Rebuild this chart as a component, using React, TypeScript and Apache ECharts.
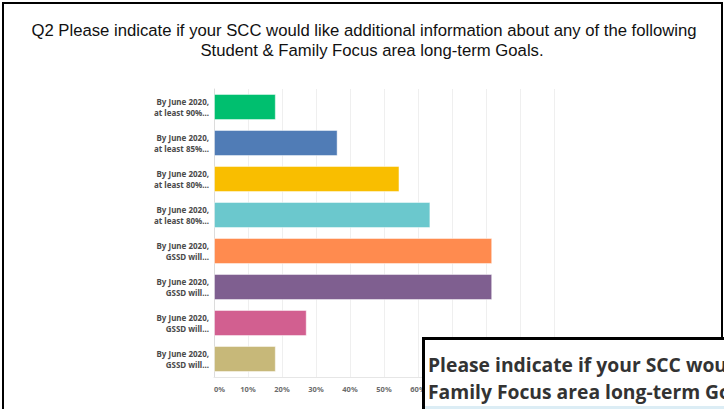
import React, { useEffect, useRef } from "react";
import * as echarts from "echarts";

const categories = [
  "By June 2020,\nat least 90%...",
  "By June 2020,\nat least 85%...",
  "By June 2020,\nat least 80%...",
  "By June 2020,\nat least 80%...",
  "By June 2020,\nGSSD will...",
  "By June 2020,\nGSSD will...",
  "By June 2020,\nGSSD will...",
  "By June 2020,\nGSSD will...",
];
const values = [18.18, 36.36, 54.55, 63.64, 81.82, 81.82, 27.27, 18.18];
const barColors = ["#00bf6f", "#507cb6", "#f9be00", "#6bc8cd", "#ff8b4f", "#7f5f90", "#d25f90", "#c7b879"];
const titleLines = [
  "Q2 Please indicate if your SCC would like additional information about any of the following",
  "Student & Family Focus area long-term Goals.",
];
const overlayLines = [
  "Please indicate if your SCC would",
  "Family Focus area long-term Goals",
];

export default function App() {
  const ref = useRef<HTMLDivElement>(null);
  useEffect(() => {
    if (!ref.current) return;
    const chart = echarts.init(ref.current, undefined, { renderer: "svg" });
    chart.setOption({
      animation: false,
      backgroundColor: "#ffffff",
      grid: { left: 214, right: 170, top: 89, bottom: 32, containLabel: false },
      xAxis: {
        type: "value",
        min: 0,
        max: 100,
        interval: 10,
        axisLine: { show: true, lineStyle: { color: "#e6e6e6", width: 1 } },
        axisTick: { show: false },
        splitLine: { show: true, lineStyle: { color: "#efefef", width: 1 } },
        axisLabel: {
          formatter: (v: number) => (v > 60 ? "" : v + "%"),
          color: "#6b6b6b",
          fontSize: 7.5,
          fontWeight: "bold",
          fontFamily: "Noto Sans",
          margin: 8,
          alignMinLabel: "left",
        },
      },
      yAxis: {
        type: "category",
        inverse: true,
        data: categories,
        axisLine: { show: true, lineStyle: { color: "#dcdcdc", width: 1 } },
        axisTick: { show: false },
        axisLabel: {
          color: "#4a4a4a",
          fontSize: 8,
          fontWeight: "bold",
          fontFamily: "Noto Sans",
          lineHeight: 10.5,
          margin: 5,
          align: "right",
        },
      },
      series: [
        {
          type: "bar",
          data: values.map((v, i) => ({ value: v, itemStyle: { color: barColors[i] } })),
          barWidth: 26,
          itemStyle: { borderColor: "rgba(255,255,255,0.45)", borderWidth: 1 },
        },
      ],
      graphic: [
        {
          type: "rect",
          shape: { x: 3, y: 3, width: 719, height: 430 },
          style: { fill: "none", stroke: "#000", lineWidth: 2 },
          z: 10,
        },
        {
          type: "text",
          x: 364,
          y: 30,
          style: {
            text: titleLines[0],
            fontFamily: "Liberation Sans",
            fontSize: 16.7,
            fill: "#111",
            align: "center",
            verticalAlign: "middle",
          },
          z: 10,
        },
        {
          type: "text",
          x: 372,
          y: 50,
          style: {
            text: titleLines[1],
            fontFamily: "Liberation Sans",
            fontSize: 16.7,
            fill: "#111",
            align: "center",
            verticalAlign: "middle",
          },
          z: 10,
        },
        {
          type: "rect",
          shape: { x: 423.5, y: 338.5, width: 320, height: 100 },
          style: { fill: "#ffffff", stroke: "#000", lineWidth: 3 },
          z: 20,
        },
        {
          type: "rect",
          shape: { x: 425, y: 406, width: 300, height: 5 },
          style: { fill: "#dcedf5" },
          z: 21,
        },
        {
          type: "text",
          x: 428,
          y: 364,
          style: {
            text: overlayLines[0],
            fontFamily: "Open Sans",
            fontWeight: "bold",
            fontSize: 19.3,
            fill: "#333333",
            align: "left",
            verticalAlign: "middle",
          },
          z: 22,
        },
        {
          type: "text",
          x: 428,
          y: 391,
          style: {
            text: overlayLines[1],
            fontFamily: "Open Sans",
            fontWeight: "bold",
            fontSize: 19.3,
            fill: "#333333",
            align: "left",
            verticalAlign: "middle",
          },
          z: 22,
        },
      ],
    });
    return () => chart.dispose();
  }, []);
  return (
    <div
      ref={ref}
      style={{ position: "fixed", left: 0, top: 0, width: 724, height: 409, background: "#fff" }}
    />
  );
}
